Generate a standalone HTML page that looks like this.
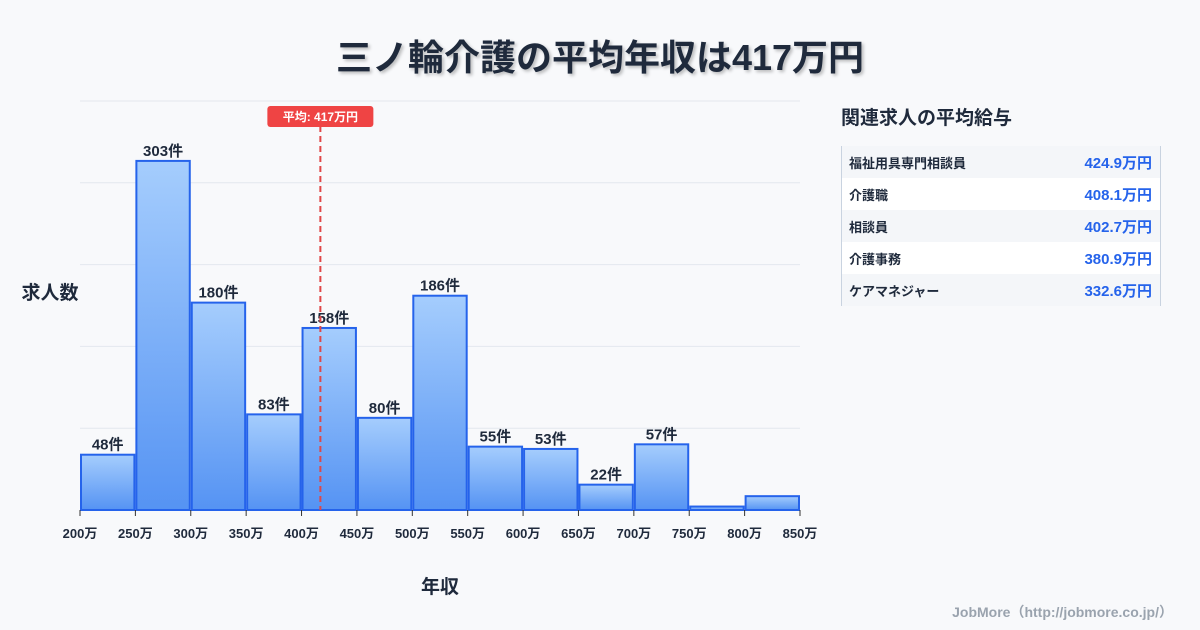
<!DOCTYPE html>
<html><head><meta charset="utf-8">
<style>
body{margin:0;width:1200px;height:630px;background:#f8f9fb;font-family:"Liberation Sans","Noto Sans CJK JP",sans-serif;position:relative;overflow:hidden}
#title{position:absolute;top:29px;left:0;width:1200px;text-align:center;font-size:36px;font-weight:bold;color:#1f2a3c;text-shadow:2px 2px 3px rgba(0,0,0,0.25)}
#side-title{position:absolute;left:841px;top:103px;font-size:19px;font-weight:bold;color:#1f2a3c}
#table{position:absolute;left:841px;top:146px;width:318px;border-left:1px solid #c9d3e0;border-right:1px solid #c9d3e0}
.row{height:32px;display:flex;justify-content:space-between;align-items:center;padding:0 8px 0 7px;background:#f4f6f9}
.row:nth-child(even){background:#fff}
.row .n{font-size:13px;font-weight:bold;color:#1f2a3c}
.row .v{font-size:15px;font-weight:bold;color:#2563eb}
#footer{position:absolute;right:27px;top:602px;font-size:14px;font-weight:bold;color:#9aa3ae}
</style></head><body>
<div id="title">三ノ輪介護の平均年収は417万円</div>
<div id="side-title">関連求人の平均給与</div>
<div id="table">
<div class="row"><span class="n">福祉用具専門相談員</span><span class="v">424.9万円</span></div>
<div class="row"><span class="n">介護職</span><span class="v">408.1万円</span></div>
<div class="row"><span class="n">相談員</span><span class="v">402.7万円</span></div>
<div class="row"><span class="n">介護事務</span><span class="v">380.9万円</span></div>
<div class="row"><span class="n">ケアマネジャー</span><span class="v">332.6万円</span></div>
</div>
<div id="footer">JobMore（http://jobmore.co.jp/）</div>
<svg id="chart" width="1200" height="630" style="position:absolute;left:0;top:0">
<defs><linearGradient id="g" x1="0" y1="0" x2="0" y2="1"><stop offset="0" stop-color="#a5cdfd"/><stop offset="1" stop-color="#5593f3"/></linearGradient></defs>
</svg>
<script>
const binEdges=[200,250,300,350,400,450,500,550,600,650,700,750,800,850];
const counts=[48,303,180,83,158,80,186,55,53,22,57,3,12];
const showLabel=[true,true,true,true,true,true,true,true,true,true,true,false,false];
const meanValue=417;
const gridValues=[0,71,142,213,284,355];
const svg=document.getElementById('chart');
const NS='http://www.w3.org/2000/svg';
const X0=80,X1=800,Y0=510,Y1=101,XMIN=200,XMAX=850,YMAX=355;
const xs=v=>X0+(v-XMIN)/(XMAX-XMIN)*(X1-X0);
const ys=v=>Y0-v/YMAX*(Y0-Y1);
function mk(t,a,txt){const e=document.createElementNS(NS,t);for(const k in a)e.setAttribute(k,a[k]);if(txt!==undefined)e.textContent=txt;svg.appendChild(e);return e;}
gridValues.forEach(g=>{if(g===0)return;const l=mk('line',{x1:X0,x2:X1,y1:ys(g),y2:ys(g),stroke:'#e3e7ee','stroke-width':1});

});
counts.forEach((c,i)=>{const x=xs(binEdges[i])+1,w=xs(binEdges[i+1])-xs(binEdges[i])-2;
const r=mk('rect',{x:x,y:ys(c),width:w,height:Y0-ys(c),fill:'url(#g)',stroke:'#2563eb','stroke-width':2});


if(showLabel[i]){const t=mk('text',{x:x+w/2,y:ys(c)-5,'text-anchor':'middle','font-size':15,'font-weight':'bold',fill:'#1f2a3c'},c+'件');

}});
binEdges.forEach(b=>{const x=xs(b);const tk=mk('line',{x1:x,x2:x,y1:Y0,y2:Y0+6,stroke:'#333','stroke-width':1});


const t=mk('text',{x:x,y:538,'text-anchor':'middle','font-size':13,'font-weight':'bold',fill:'#1f2a3c'},b+'万');

});
const mx=xs(meanValue);
const ml=mk('line',{x1:mx,x2:mx,y1:126,y2:Y0,stroke:'#e04646','stroke-width':2,'stroke-dasharray':'6,4'});


const mb=mk('rect',{x:mx-53,y:106,width:106,height:21,rx:3,fill:'#ef4444'});


const mt=mk('text',{x:mx,y:121,'text-anchor':'middle','font-size':12,'font-weight':'bold',fill:'#fff'},'平均: '+meanValue+'万円');


const yt=mk('text',{x:50,y:299,'text-anchor':'middle','font-size':19,'font-weight':'bold',fill:'#1f2a3c'},'求人数');


const xt=mk('text',{x:440,y:593,'text-anchor':'middle','font-size':19,'font-weight':'bold',fill:'#1f2a3c'},'年収');


</script>
</body></html>
